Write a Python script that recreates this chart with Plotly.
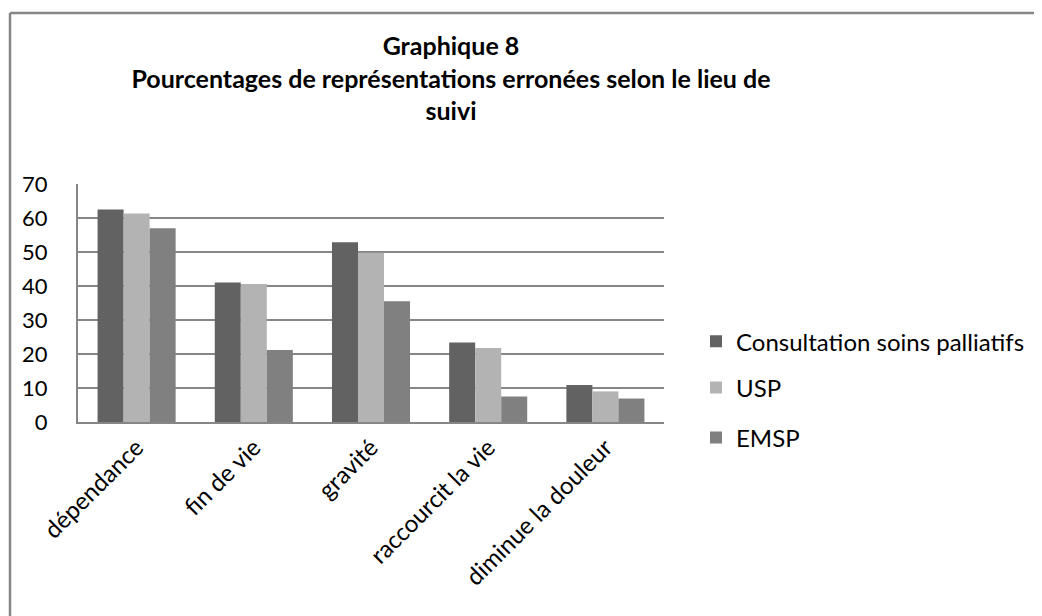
import plotly.graph_objects as go

categories = ["dépendance", "fin de vie", "gravité", "raccourcit la vie", "diminue la douleur"]
series_names = ["Consultation soins palliatifs", "USP", "EMSP"]
consultation = [62.5, 41.0, 52.9, 23.4, 10.9]
usp = [61.3, 40.6, 49.8, 21.8, 9.0]
emsp = [57.0, 21.2, 35.5, 7.5, 6.9]
colors = ["#626262", "#b3b3b3", "#808080"]
y_ticks = [0, 10, 20, 30, 40, 50, 60, 70]

OFF = 8  # page body margin
W, H = 1042, 616
L, R, T, B = 78 - OFF, 664 - OFF, 184 - OFF, 422 - OFF

fig = go.Figure()
legend_ids = ["legend", "legend2", "legend3"]
for name, vals, col, lg in zip(series_names, [consultation, usp, emsp], colors, legend_ids):
    fig.add_trace(go.Bar(x=categories, y=vals, name=name, marker=dict(color=col, line=dict(width=0)),
                         legend=lg))

font = "Lato, 'Open Sans', sans-serif"
legend_y = [341.7 - OFF, 388 - OFF, 438 - OFF]
legend_common = dict(xref="container", yref="container", xanchor="left", yanchor="middle",
                     font=dict(family=font, size=24, color="#000"), bgcolor="rgba(0,0,0,0)",
                     itemwidth=30, borderwidth=0)
leg_layout = {}
for lg, yy in zip(legend_ids, legend_y):
    leg_layout[lg] = dict(x=(696 - OFF) / W, y=1 - yy / H, **legend_common)

fig.update_layout(
    width=W, height=H,
    margin=dict(l=L, r=W - R, t=T, b=H - B, autoexpand=False),
    paper_bgcolor="white", plot_bgcolor="white",
    barmode="group", bargap=0.334, bargroupgap=0,
    showlegend=True,
    title=dict(text="<b>Graphique 8<br>Pourcentages de représentations erronées selon le lieu de<br>suivi</b>",
               x=(451 - OFF) / W, xanchor="center", xref="container",
               y=1 - 47 / H, yanchor="top", yref="container",
               font=dict(family=font, size=25, color="#000")),
    font=dict(family=font, size=22, color="#000"),
    xaxis=dict(showline=True, linecolor="#868686", linewidth=2, ticks="", tickangle=-45,
               tickfont=dict(family=font, size=24, color="#000"), showgrid=False),
    yaxis=dict(range=[0, 70], tickvals=y_ticks, showline=True, linecolor="#868686", linewidth=2,
               showgrid=True, gridcolor="#868686", gridwidth=1.5, ticks="",
               ticklabelstandoff=24,
               tickfont=dict(family=font, size=22, color="#000"), zeroline=False),
    **leg_layout,
)

# chart-area border (left and top visible in reference)
bx = 10 - OFF
by = 13 - OFF
px = lambda v: (v - L) / (R - L)
py = lambda v: (B - v) / (B - T)
fig.add_shape(type="line", xref="paper", yref="paper", x0=px(bx), x1=px(bx),
              y0=py(700), y1=py(by), line=dict(color="#868686", width=2.5))
fig.add_shape(type="line", xref="paper", yref="paper", x0=px(bx), x1=px(1100),
              y0=py(by), y1=py(by), line=dict(color="#868686", width=2.5))

fig.write_html("out.html")
